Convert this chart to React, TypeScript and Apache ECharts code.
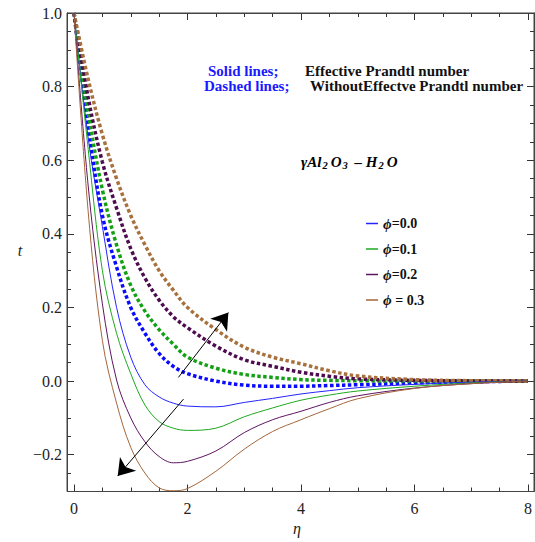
import React, { useEffect, useRef } from "react";
import * as echarts from "echarts";

const eta = [0, 0.25, 0.5, 0.75, 1, 1.25, 1.5, 1.75, 2, 2.5, 3, 3.5, 4, 4.5, 5, 6, 7, 8];

// Solid lines: effective Prandtl number
const solid00 = [1, 0.66, 0.42, 0.2, 0.065, -0.01, -0.043, -0.06, -0.068, -0.07, -0.058, -0.047, -0.035, -0.026, -0.018, -0.009, -0.003, 0];
const solid01 = [1, 0.63, 0.3, 0.13, 0.02, -0.065, -0.11, -0.128, -0.134, -0.128, -0.097, -0.073, -0.052, -0.038, -0.027, -0.014, -0.005, 0];
const solid02 = [1, 0.53, 0.21, 0.003, -0.1, -0.165, -0.205, -0.222, -0.218, -0.19, -0.14, -0.105, -0.082, -0.058, -0.04, -0.019, -0.007, 0];
const solid03 = [1, 0.46, 0.11, -0.06, -0.18, -0.25, -0.29, -0.298, -0.292, -0.245, -0.185, -0.137, -0.105, -0.075, -0.048, -0.02, -0.007, 0];

// Dashed lines: without effective Prandtl number
const dashed00 = [1, 0.69, 0.45, 0.31, 0.2, 0.13, 0.075, 0.04, 0.02, 0.0, -0.011, -0.014, -0.014, -0.012, -0.01, -0.005, -0.002, 0];
const dashed01 = [1, 0.73, 0.52, 0.37, 0.26, 0.19, 0.14, 0.1, 0.065, 0.035, 0.018, 0.01, 0.004, 0.002, 0.001, 0, 0, 0];
const dashed02 = [1, 0.77, 0.595, 0.47, 0.36, 0.28, 0.22, 0.175, 0.145, 0.095, 0.058, 0.04, 0.024, 0.013, 0.006, 0.002, 0.0005, 0];
const dashed03 = [1, 0.82, 0.67, 0.55, 0.45, 0.37, 0.3, 0.247, 0.2, 0.14, 0.092, 0.065, 0.047, 0.028, 0.014, 0.004, 0.001, 0];

const phiLabels = ["0.0", "0.1", "0.2", "0.3"];
const yTicks = { min: -0.3, max: 1.0, majorMin: -0.2, interval: 0.2 };
const xTicks = { min: 0, max: 8, interval: 2 };

// arrows (data coordinates): [tail, tip]
const arrowUp = [[1.84, 0.01], [2.72, 0.186]];
const arrowDown = [[1.93, -0.049], [0.77, -0.258]];

const solidColors = ["#2424ff", "#1ea81e", "#5e1462", "#a4663a"];
const dashedColors = ["#0a0aff", "#14a014", "#4e0c50", "#a8703c"];

const SERIF = '"Liberation Serif", "DejaVu Serif", serif';

function pairs(ys: number[]) {
  return eta.map((x, i) => [x, ys[i]]);
}

export default function App() {
  const ref = useRef<HTMLDivElement>(null);
  useEffect(() => {
    document.body.style.margin = "0";
    if (!ref.current) return;
    const chart = echarts.init(ref.current, null, { renderer: "svg" });
    const solids = [solid00, solid01, solid02, solid03];
    const dasheds = [dashed00, dashed01, dashed02, dashed03];
    const series: any[] = [];
    dasheds.forEach((d, i) => {
      series.push({
        type: "line",
        name: "d" + i,
        xAxisIndex: 0,
        yAxisIndex: 0,
        data: pairs(d),
        smooth: 0.35,
        showSymbol: false,
        lineStyle: { color: dashedColors[i], width: 3.5, type: [3.5, 2.5] },
        itemStyle: { color: dashedColors[i] },
        z: 2,
      });
    });
    solids.forEach((d, i) => {
      series.push({
        type: "line",
        name: phiLabels[i],
        xAxisIndex: 0,
        yAxisIndex: 0,
        data: pairs(d),
        smooth: 0.35,
        showSymbol: false,
        lineStyle: { color: solidColors[i], width: 1 },
        itemStyle: { color: solidColors[i] },
        z: 3,
      });
    });
    series.push({
      type: "line",
      name: "arrows",
      xAxisIndex: 0,
      yAxisIndex: 0,
      data: [],
      markLine: {
        silent: true,
        symbol: ["none", "arrow"],
        symbolSize: 16,
        label: { show: false },
        lineStyle: { color: "#000", width: 1, type: "solid" },
        data: [
          [{ coord: arrowUp[0] }, { coord: arrowUp[1] }],
          [{ coord: arrowDown[0] }, { coord: arrowDown[1] }],
        ],
      },
    });

    const tickStyle = { color: "#333", width: 1 };
    const axLine = { show: true, onZero: false, lineStyle: { color: "#444", width: 1 } };
    const noLine = { show: false, onZero: false };
    const option: any = {
      animation: false,
      backgroundColor: "#fff",
      grid: [
        { left: 74, right: 7, top: 13, bottom: 50.5 },
        { left: 67, right: 1, top: 13, bottom: 87.4 },
        { left: 67, right: 1, top: 13, bottom: 50.5 },
      ],
      xAxis: [
        {
          gridIndex: 0, type: "value", position: "bottom",
          min: xTicks.min, max: xTicks.max, interval: xTicks.interval,
          axisLine: axLine,
          axisTick: { show: true, inside: true, length: 7, lineStyle: tickStyle },
          minorTick: { show: true, splitNumber: 4, length: 4, lineStyle: tickStyle },
          axisLabel: { show: true, fontFamily: SERIF, fontSize: 16, color: "#222", margin: 9 },
          splitLine: { show: false },
        },
        {
          gridIndex: 0, type: "value", position: "top",
          min: xTicks.min, max: xTicks.max, interval: xTicks.interval,
          axisLine: axLine,
          axisTick: { show: true, inside: true, length: 7, lineStyle: tickStyle },
          minorTick: { show: true, splitNumber: 4, length: 4, lineStyle: tickStyle },
          axisLabel: { show: false },
          splitLine: { show: false },
        },
        { gridIndex: 1, type: "value", show: false, min: 0, max: 1, axisLine: noLine },
        { gridIndex: 2, type: "value", show: false, min: 0, max: 1, axisLine: noLine },
      ],
      yAxis: [
        { gridIndex: 0, type: "value", show: false, min: yTicks.min, max: yTicks.max, axisLine: noLine },
        {
          gridIndex: 1, type: "value", position: "left",
          min: yTicks.majorMin, max: yTicks.max, interval: yTicks.interval,
          axisLine: axLine,
          axisTick: { show: true, inside: true, length: 7, lineStyle: tickStyle },
          axisLabel: {
            show: true, fontFamily: SERIF, fontSize: 16, color: "#222", margin: 5,
            formatter: (v: number) => (v < 0 ? "\u2212" + Math.abs(v).toFixed(1) : v.toFixed(1)),
          },
          splitLine: { show: false },
        },
        {
          gridIndex: 1, type: "value", position: "right",
          min: yTicks.majorMin, max: yTicks.max, interval: yTicks.interval,
          axisLine: axLine,
          axisTick: { show: true, inside: true, length: 7, lineStyle: tickStyle },
          axisLabel: { show: false },
          splitLine: { show: false },
        },
        {
          gridIndex: 2, type: "value", position: "left",
          min: yTicks.min, max: yTicks.max, interval: 0.05,
          axisLine: axLine,
          axisTick: { show: true, inside: true, length: 4, lineStyle: tickStyle },
          axisLabel: { show: false },
          splitLine: { show: false },
        },
        {
          gridIndex: 2, type: "value", position: "right",
          min: yTicks.min, max: yTicks.max, interval: 0.05,
          axisLine: axLine,
          axisTick: { show: true, inside: true, length: 4, lineStyle: tickStyle },
          axisLabel: { show: false },
          splitLine: { show: false },
        },
      ],
      legend: {
        data: phiLabels,
        orient: "vertical",
        left: 361,
        top: 211,
        icon: "rect",
        itemWidth: 12,
        itemHeight: 1.5,
        itemGap: 10.5,
        selectedMode: false,
        formatter: (name: string) =>
          name === "0.3" ? "{i|\u03d5}{b| = " + name + "}" : "{i|\u03d5}{b|=" + name + "}",
        textStyle: {
          rich: {
            i: { fontFamily: SERIF, fontStyle: "italic", fontWeight: "bold", fontSize: 15, color: "#111", lineHeight: 14 },
            b: { fontFamily: SERIF, fontWeight: "bold", fontSize: 14, color: "#111", lineHeight: 14 },
          },
        },
      },
      graphic: [
        {
          type: "rect", silent: true, z: 10,
          shape: { x: 67, y: 13, width: 467, height: 478.5 },
          style: { fill: "none", stroke: "#444", lineWidth: 1 },
        },
        {
          type: "text", x: 208, y: 71,
          style: { text: "Solid lines;", fill: "#1a1aff", font: "bold 15px " + SERIF, lineHeight: 13, verticalAlign: "middle" },
        },
        {
          type: "text", x: 305, y: 71,
          style: { text: "Effective Prandtl number", fill: "#111", font: "bold 15px " + SERIF, lineHeight: 13, verticalAlign: "middle" },
        },
        {
          type: "text", x: 204, y: 86,
          style: { text: "Dashed lines;", fill: "#1a1aff", font: "bold 15px " + SERIF, lineHeight: 13, verticalAlign: "middle" },
        },
        {
          type: "text", x: 310, y: 86,
          style: { text: "WithoutEffectve Prandtl number", fill: "#111", font: "bold 15px " + SERIF, lineHeight: 13, verticalAlign: "middle" },
        },
        {
          type: "text", x: 300, y: 153,
          style: {
            text: "{i|\u03b3Al}{s|2}{i|O}{s|3}{i| \u2013 H}{s|2}{i|O}",
            rich: {
              i: { fontFamily: SERIF, fontStyle: "italic", fontWeight: "bold", fontSize: 15, color: "#ee1111", lineHeight: 18, verticalAlign: "middle", padding: [0, 1, 0, 1] },
              s: { fontFamily: SERIF, fontStyle: "italic", fontWeight: "bold", fontSize: 10.5, color: "#ee1111", lineHeight: 10, verticalAlign: "bottom", padding: [0, 2, 0, 0] },
            },
          },
        },
        {
          type: "text", x: 20, y: 250,
          style: { text: "t", fill: "#222", font: "italic 16px " + SERIF, verticalAlign: "middle", align: "center" },
        },
        {
          type: "text", x: 297, y: 528,
          style: { text: "\u03b7", fill: "#222", font: "italic 16px " + SERIF, verticalAlign: "middle", align: "center" },
        },
      ],
      series,
    };
    chart.setOption(option);
    return () => chart.dispose();
  }, []);
  return <div ref={ref} style={{ width: 535, height: 542 }} />;
}
